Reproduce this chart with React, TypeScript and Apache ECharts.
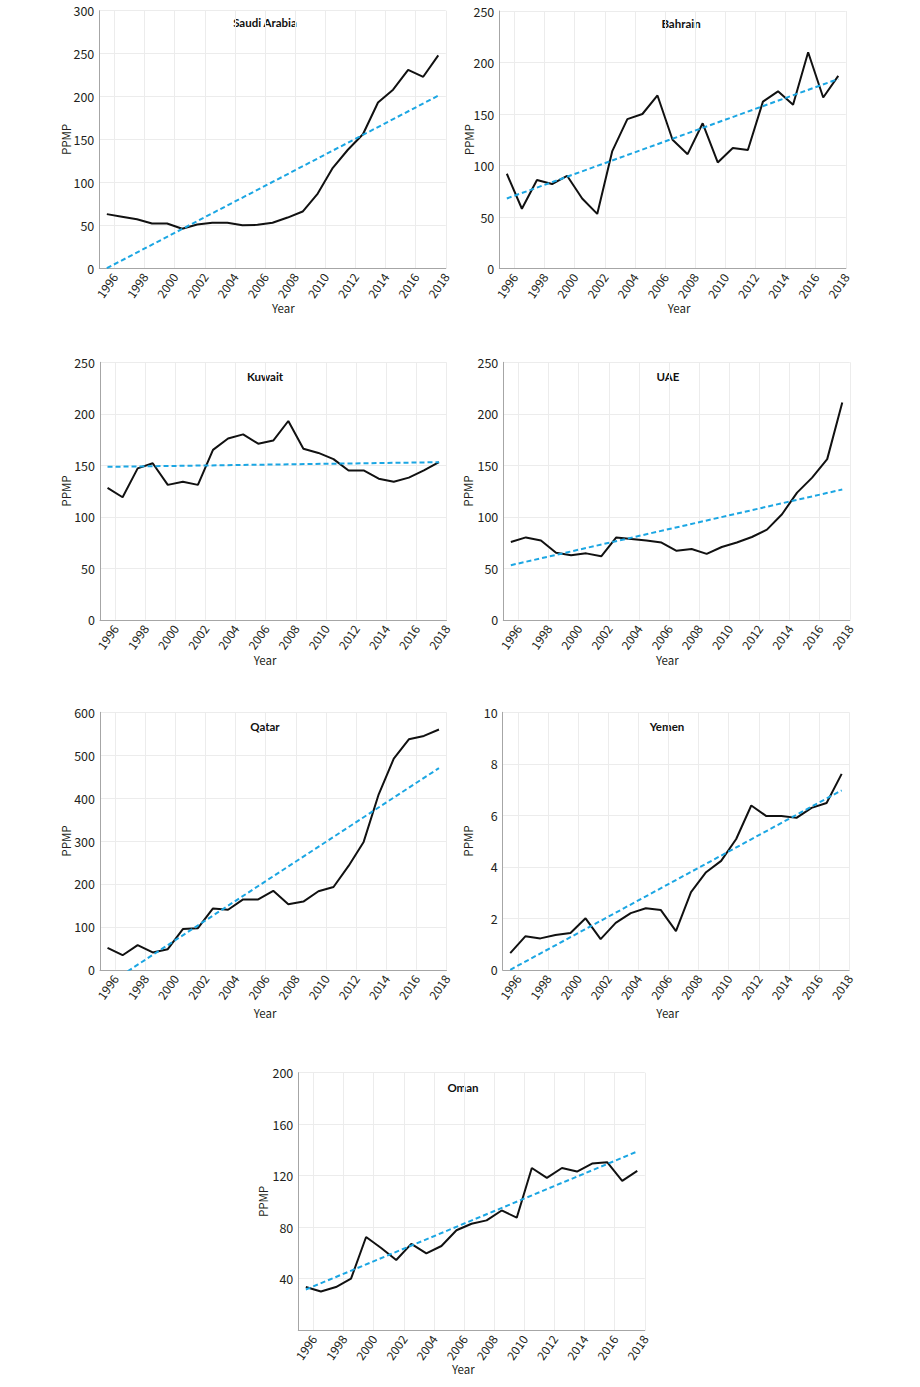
import React, { useEffect, useRef } from "react";
import * as echarts from "echarts";

const years = [1996, 1997, 1998, 1999, 2000, 2001, 2002, 2003, 2004, 2005, 2006, 2007, 2008, 2009, 2010, 2011, 2012, 2013, 2014, 2015, 2016, 2017, 2018];
const yearTickLabels = [1996, 1998, 2000, 2002, 2004, 2006, 2008, 2010, 2012, 2014, 2016, 2018];

const saudiArabia = [63, 60, 57, 52, 52, 46, 51, 53, 53, 50, 50.5, 53, 59, 66, 87, 117, 138, 156, 193, 208, 231, 223, 248];
const saudiArabiaTrend = [0, 201];

const bahrain = [92, 58, 86, 82, 90, 68, 53, 114, 145, 150, 168, 125, 111, 141, 103, 117, 115, 162, 172, 159, 210, 166, 187];
const bahrainTrend = [68, 184];

const kuwait = [128, 119, 147, 152, 131, 134, 131, 165, 176, 180, 171, 174, 193, 166, 162, 156, 145, 145, 137, 134, 138, 145, 153];
const kuwaitTrend = [148.5, 153];

const uae = [75.5, 80, 77, 65, 62.6, 64.5, 61.6, 80, 78.5, 77, 75, 67, 68.7, 64, 70.7, 75, 80.4, 87.5, 102.5, 123.5, 138, 156, 211];
const uaeTrend = [53, 126.5];

const qatar = [51, 34, 57.6, 40.5, 48, 95, 97, 143, 140, 164, 164, 184, 152.5, 159, 183, 193, 242, 298, 409, 492, 537, 545, 560];
const qatarTrend = [-34, 470];

const yemen = [0.65, 1.3, 1.22, 1.35, 1.43, 2.0, 1.19, 1.82, 2.2, 2.39, 2.32, 1.5, 3.02, 3.79, 4.23, 5.08, 6.38, 5.97, 5.97, 5.9, 6.29, 6.48, 7.61];
const yemenTrend = [0, 6.97];

const oman = [33.5, 30, 33.5, 40, 72.4, 63.8, 54.5, 67, 59.7, 65.4, 77.6, 82.7, 85.3, 93, 87.4, 126, 118.3, 126, 123.2, 129.4, 130.5, 116, 123.7];
const omanTrend = [31.6, 138.8];

const FONT = "'Noto Sans CJK JP', 'Noto Sans', sans-serif";
const TITLE_FONT = "Lato, 'Noto Sans CJK JP', sans-serif";

type Panel = {
  name: string;
  values: number[];
  trend: number[];
  max: number;
  interval: number;
  left: number;
  top: number;
  titleX: number;
  titleY: number;
  pmpX: number;
  yearX: number;
  yearY: number;
  hideZero?: boolean;
};

const panels: Panel[] = [
  { name: "Saudi Arabia", values: saudiArabia, trend: saudiArabiaTrend, max: 300, interval: 50, left: 99.3, top: 10.7, titleX: 265, titleY: 22.5, pmpX: 65.5, yearX: 283.3, yearY: 308.3 },
  { name: "Bahrain", values: bahrain, trend: bahrainTrend, max: 250, interval: 50, left: 499.3, top: 11, titleX: 681, titleY: 23, pmpX: 468.5, yearX: 679, yearY: 308.3 },
  { name: "Kuwait", values: kuwait, trend: kuwaitTrend, max: 250, interval: 50, left: 100, top: 362.3, titleX: 265, titleY: 376.5, pmpX: 65.5, yearX: 265, yearY: 660 },
  { name: "UAE", values: uae, trend: uaeTrend, max: 250, interval: 50, left: 503.3, top: 362.3, titleX: 668, titleY: 376.5, pmpX: 468, yearX: 667.3, yearY: 660 },
  { name: "Qatar", values: qatar, trend: qatarTrend, max: 600, interval: 100, left: 100, top: 712.3, titleX: 265, titleY: 726.5, pmpX: 65.5, yearX: 265, yearY: 1013 },
  { name: "Yemen", values: yemen, trend: yemenTrend, max: 10, interval: 2, left: 502.7, top: 712.3, titleX: 667, titleY: 726, pmpX: 468.3, yearX: 667.7, yearY: 1013 },
  { name: "Oman", values: oman, trend: omanTrend, max: 200, interval: 40, left: 298.3, top: 1072.7, titleX: 463, titleY: 1087.3, pmpX: 263, yearX: 463.3, yearY: 1369, hideZero: true },
];

const PLOT_W = 346.5;
const PLOT_H = 257.5;
const NAME_SIZE = 11.5;

function buildOption(): echarts.EChartsOption {
  const grid: any[] = [];
  const xAxis: any[] = [];
  const yAxis: any[] = [];
  const series: any[] = [];
  const graphic: any[] = [];

  panels.forEach((p, i) => {
    grid.push({ left: p.left, top: p.top, width: PLOT_W, height: PLOT_H, containLabel: false });
    const axisMidX = p.left + PLOT_W / 2;
    const shift = p.yearX - axisMidX;
    xAxis.push({
      type: "value",
      gridIndex: i,
      min: years[0] - 1,
      max: years[years.length - 1],
      name: "Year",
      nameLocation: "middle",
      nameMoveOverlap: false,
      nameGap: p.yearY - (p.top + PLOT_H) - NAME_SIZE / 2,
      nameTextStyle: {
        fontFamily: FONT,
        fontSize: NAME_SIZE,
        color: "#231f20",
        padding: shift >= 0 ? [0, 0, 0, 2 * shift] : [0, -2 * shift, 0, 0],
      },
      axisLine: { show: true, lineStyle: { color: "#a6a6a6", width: 1 } },
      axisTick: { show: false, customValues: yearTickLabels },
      axisLabel: {
        customValues: yearTickLabels,
        rotate: 55,
        margin: 6,
        fontFamily: FONT,
        fontSize: 12,
        color: "#231f20",
        formatter: (v: number) => String(v),
      },
      splitLine: { show: true, lineStyle: { color: "#ececec", width: 1 } },
    });
    yAxis.push({
      type: "value",
      gridIndex: i,
      min: 0,
      max: p.max,
      interval: p.interval,
      name: "PPMP",
      nameLocation: "middle",
      nameMoveOverlap: false,
      nameGap: p.left - p.pmpX - NAME_SIZE / 2,
      nameTextStyle: { fontFamily: FONT, fontSize: NAME_SIZE, color: "#231f20" },
      axisLine: { show: true, lineStyle: { color: "#a6a6a6", width: 1 } },
      axisTick: { show: false },
      axisLabel: {
        margin: 5,
        fontFamily: FONT,
        fontSize: 12.5,
        color: "#231f20",
        showMinLabel: !p.hideZero,
      },
      splitLine: { show: true, lineStyle: { color: "#ececec", width: 1 } },
    });
    series.push({
      type: "line",
      name: p.name,
      xAxisIndex: i,
      yAxisIndex: i,
      symbol: "none",
      lineStyle: { color: "#111111", width: 2 },
      data: p.values.map((v, k) => [years[k] - 0.5, v]),
      z: 3,
    });
    series.push({
      type: "line",
      name: p.name + " trend",
      xAxisIndex: i,
      yAxisIndex: i,
      symbol: "none",
      clip: true,
      lineStyle: { color: "#1ba6e3", width: 2, type: [5, 3] },
      data: [
        [years[0] - 0.5, p.trend[0]],
        [years[years.length - 1] - 0.5, p.trend[1]],
      ],
      z: 4,
    });
    graphic.push({
      type: "text",
      x: p.titleX,
      y: p.titleY,
      style: {
        text: p.name,
        fill: "#111",
        font: `bold 11.5px ${TITLE_FONT}`,
        textAlign: "center",
        textVerticalAlign: "middle",
      },
    });
  });

  return { animation: false, backgroundColor: "#ffffff", grid, xAxis, yAxis, series, graphic };
}

export default function App() {
  const ref = useRef<HTMLDivElement>(null);
  useEffect(() => {
    if (!ref.current) return;
    const chart = echarts.init(ref.current, undefined, { renderer: "svg" });
    chart.setOption(buildOption());
    return () => chart.dispose();
  }, []);
  return (
    <div
      ref={ref}
      style={{ position: "absolute", left: 0, top: 0, width: 920, height: 1387, background: "#fff" }}
    />
  );
}
